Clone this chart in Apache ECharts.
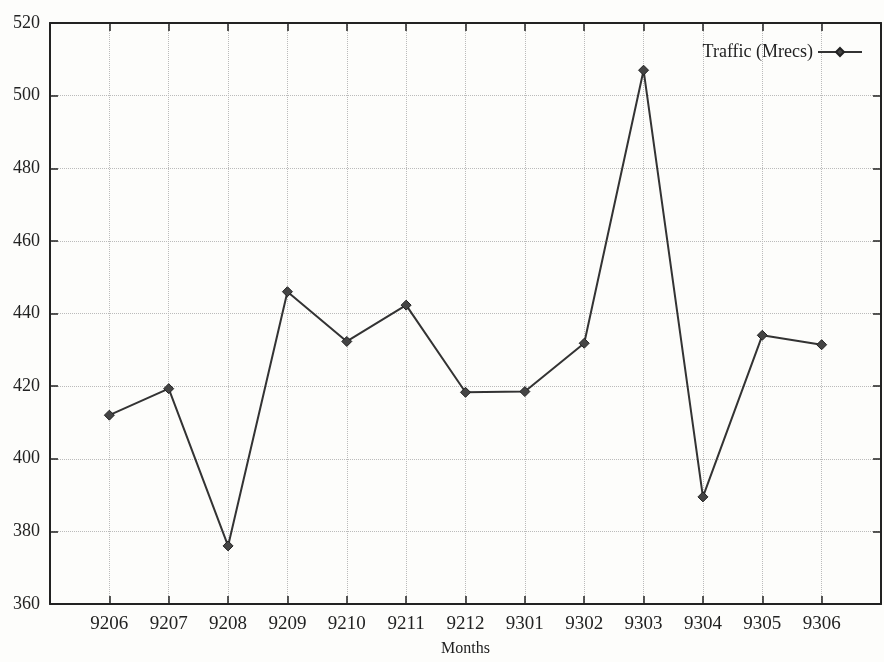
<!DOCTYPE html>
<html>
<head>
<meta charset="utf-8">
<script src="https://cdn.jsdelivr.net/npm/echarts@6/dist/echarts.min.js"></script>
<style>
  html, body { margin: 0; padding: 0; background: #fdfdfb; }
  #chart { width: 884px; height: 662px; }
</style>
</head>
<body>
<div id="chart"></div>
<script>
// months on x axis, with empty slots at both ends (gnuplot-style padding)
const months = ['', '9206', '9207', '9208', '9209', '9210', '9211', '9212',
  '9301', '9302', '9303', '9304', '9305', '9306', ''];
const traffic = [null, 412, 419.3, 376, 446, 432.3, 442.3, 418.3,
  418.5, 431.8, 507, 389.5, 434, 431.4, null];
const yTicks = { min: 360, max: 520, step: 20 };

const chart = echarts.init(document.getElementById('chart'));
const font = 'Liberation Serif';

const option = {
  backgroundColor: '#fdfdfb',
  animation: false,
  textStyle: { fontFamily: font },
  grid: { left: 50, top: 23, width: 836, height: 593 },
  legend: {
    right: 16,
    top: 38,
    align: 'right',
    itemWidth: 44,
    itemHeight: 10,
    itemGap: 6,
    textStyle: { fontFamily: font, fontSize: 18, color: '#222' },
    data: ['Traffic (Mrecs)']
  },
  xAxis: [
    {
      type: 'category',
      data: months,
      boundaryGap: false,
      name: 'Months',
      nameLocation: 'middle',
      nameGap: 37,
      nameTextStyle: { fontFamily: font, fontSize: 16, color: '#222' },
      axisLine: { lineStyle: { color: '#222', width: 2 } },
      axisTick: { inside: true, length: 8, lineStyle: { color: '#222', width: 1.5 } },
      axisLabel: { fontFamily: font, fontSize: 19, color: '#222', margin: 11 },
      splitLine: { show: true, lineStyle: { color: '#bbb', type: 'dotted', width: 1 } }
    },
    {
      type: 'category',
      data: months,
      boundaryGap: false,
      position: 'top',
      axisLine: { lineStyle: { color: '#222', width: 2 } },
      axisTick: { inside: true, length: 8, lineStyle: { color: '#222', width: 1.5 } },
      axisLabel: { show: false },
      splitLine: { show: false }
    }
  ],
  yAxis: [
    {
      type: 'value',
      min: yTicks.min,
      max: yTicks.max,
      interval: yTicks.step,
      axisLine: { show: true, lineStyle: { color: '#222', width: 2 } },
      axisTick: { show: true, inside: true, length: 8, lineStyle: { color: '#222', width: 1.5 } },
      axisLabel: { fontFamily: font, fontSize: 18, color: '#222', margin: 10 },
      splitLine: { show: true, lineStyle: { color: '#bbb', type: 'dotted', width: 1 } }
    },
    {
      type: 'value',
      position: 'right',
      min: yTicks.min,
      max: yTicks.max,
      interval: yTicks.step,
      axisLine: { show: true, lineStyle: { color: '#222', width: 2 } },
      axisTick: { show: true, inside: true, length: 8, lineStyle: { color: '#222', width: 1.5 } },
      axisLabel: { show: false },
      splitLine: { show: false }
    }
  ],
  series: [
    {
      name: 'Traffic (Mrecs)',
      type: 'line',
      data: traffic,
      symbol: 'diamond',
      symbolSize: 10,
      showSymbol: true,
      connectNulls: false,
      lineStyle: { color: '#333', width: 2 },
      itemStyle: { color: '#444', borderColor: '#222', borderWidth: 1 }
    }
  ]
};

chart.setOption(option);
</script>
</body>
</html>
